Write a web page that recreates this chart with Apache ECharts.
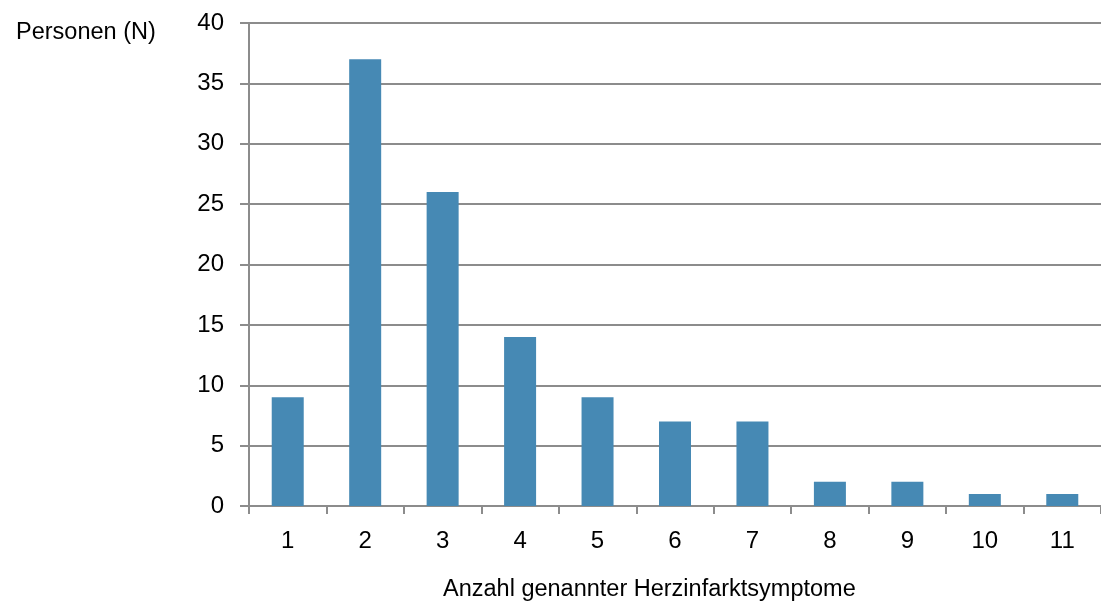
<!DOCTYPE html>
<html>
<head>
<meta charset="utf-8">
<script src="https://cdn.jsdelivr.net/npm/echarts@6/dist/echarts.min.js"></script>
<style>
html, body { margin: 0; padding: 0; background: #fff; }
#chart { width: 1101px; height: 603px; }
</style>
</head>
<body>
<div id="chart"></div>
<script>
var categories = ['1', '2', '3', '4', '5', '6', '7', '8', '9', '10', '11'];
var persons = [9, 37, 26, 14, 9, 7, 7, 2, 2, 1, 1];
var barColor = '#4689b4';
var lineColor = '#8c8c8c';
var font = 'Liberation Sans, Arial, sans-serif';

var option = {
    animation: false,
    textStyle: { fontFamily: font },
    grid: {
        left: 249,
        top: 23,
        width: 860,
        height: 483
    },
    graphic: [{
        type: 'text',
        left: 16,
        top: 21,
        style: { text: 'Personen (N)', fontSize: 23.5, fill: '#000', fontFamily: font }
    }, {
        type: 'text',
        left: 443,
        top: 578,
        style: { text: 'Anzahl genannter Herzinfarktsymptome', fontSize: 23.5, fill: '#000', fontFamily: font }
    }],
    xAxis: {
        type: 'category',
        data: categories,
        axisLine: { lineStyle: { color: lineColor, width: 2 } },
        axisTick: { show: true, length: 8, lineStyle: { color: lineColor, width: 2 } },
        axisLabel: { color: '#000', fontSize: 24, margin: 23 }
    },
    yAxis: {
        type: 'value',
        min: 0,
        max: 40,
        interval: 5,
        axisLine: { show: true, lineStyle: { color: lineColor, width: 2 } },
        axisTick: { show: true, length: 9, lineStyle: { color: lineColor, width: 2 } },
        axisLabel: { color: '#000', fontSize: 24, margin: 25 },
        splitLine: { lineStyle: { color: lineColor, width: 2 } }
    },
    series: [{
        type: 'bar',
        barWidth: 32,
        itemStyle: { color: barColor },
        data: persons
    }]
};

var chart = echarts.init(document.getElementById('chart'));
chart.setOption(option);
</script>
</body>
</html>
